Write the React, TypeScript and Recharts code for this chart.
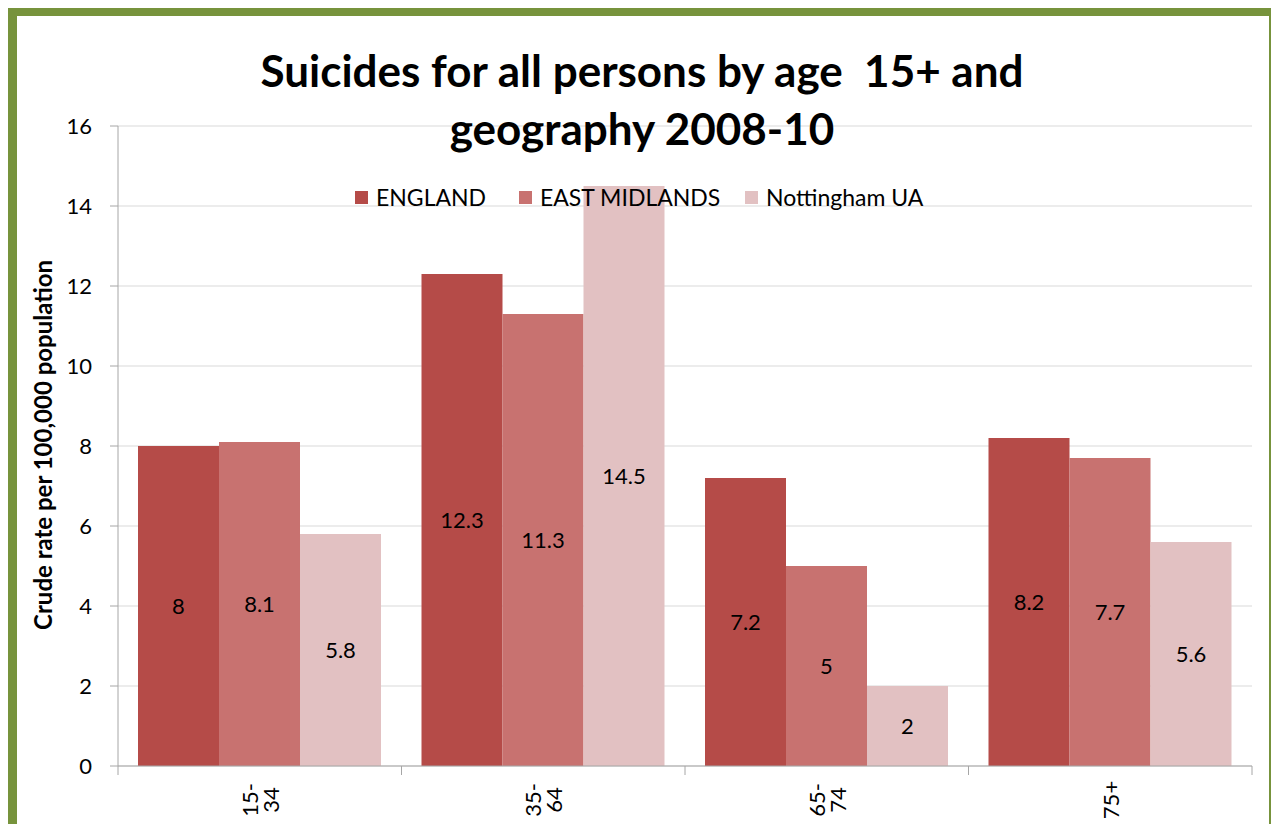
import React from "react";
import {
  BarChart,
  Bar,
  XAxis,
  YAxis,
  CartesianGrid,
  LabelList,
} from "recharts";

const categories = ["15- 34", "35- 64", "65- 74", "75+"];
const england = [8, 12.3, 7.2, 8.2];
const eastMidlands = [8.1, 11.3, 5, 7.7];
const nottingham = [5.8, 14.5, 2, 5.6];
const seriesNames = ["ENGLAND", "EAST MIDLANDS", "Nottingham UA"];
const seriesKeys = ["england", "eastMidlands", "nottingham"];
const seriesColors = ["#B54B48", "#C87270", "#E2C1C2"];
const yTicks = [0, 2, 4, 6, 8, 10, 12, 14, 16];

const data = categories.map((age, i) => ({
  age,
  england: england[i],
  eastMidlands: eastMidlands[i],
  nottingham: nottingham[i],
}));

const FONT = "Lato, 'Noto Sans', sans-serif";
const AXIS_GREY = "#A6A6A6";
const legendWidths = [164, 226, 200];

// rotated two-line age labels + tick marks at the band edges
const AgeTick = (props: any) => {
  const { x, y, payload, index } = props;
  const half = payload.offset || 0;
  const lines: string[] = String(payload.value).split(" ");
  const cy = y + 34;
  return (
    <g>
      <line x1={x - half} y1={y} x2={x - half} y2={y + 9} stroke={AXIS_GREY} />
      {index === categories.length - 1 && (
        <line x1={x + half} y1={y} x2={x + half} y2={y + 9} stroke={AXIS_GREY} />
      )}
      {lines.map((ln, i) => {
        const lx = x + (i - (lines.length - 1) / 2) * 21;
        return (
          <text
            key={i}
            x={lx}
            y={cy}
            transform={`rotate(-90 ${lx} ${cy})`}
            textAnchor="middle"
            dominantBaseline="central"
            fontFamily={FONT}
            fontSize={22}
            fill="#000"
          >
            {ln}
          </text>
        );
      })}
    </g>
  );
};

const Legend = () => (
  <div
    style={{
      position: "absolute",
      left: 355,
      top: 183,
      display: "flex",
      alignItems: "center",
      fontFamily: FONT,
      fontSize: 23,
      color: "#000",
    }}
  >
    {seriesNames.map((name, i) => (
      <div
        key={name}
        style={{ display: "flex", alignItems: "center", width: legendWidths[i] }}
      >
        <span
          style={{
            width: 13,
            height: 13,
            background: seriesColors[i],
            marginRight: 8,
            display: "inline-block",
          }}
        />
        <span>{name}</span>
      </div>
    ))}
  </div>
);

export default function App() {
  return (
    <div
      style={{
        position: "relative",
        width: 1279,
        height: 832,
        margin: -8,
        overflow: "hidden",
        background: "#fff",
      }}
    >
      <BarChart
        width={1279}
        height={832}
        data={data}
        margin={{ top: 126, right: 27, left: 58, bottom: 0 }}
        barCategoryGap={20}
        barGap={0}
      >
        <CartesianGrid vertical={false} stroke="#D9D9D9" />
        <XAxis
          dataKey="age"
          height={66}
          axisLine={{ stroke: AXIS_GREY }}
          tickLine={false}
          tickSize={0}
          tickMargin={0}
          interval={0}
          tick={<AgeTick />}
        />
        <YAxis
          width={60}
          domain={[0, 16]}
          ticks={yTicks}
          interval={0}
          axisLine={{ stroke: AXIS_GREY }}
          tickLine={{ stroke: AXIS_GREY }}
          tickSize={8}
          tickMargin={18}
          tick={{ fontFamily: FONT, fontSize: 22, fill: "#000" }}
          label={{
            content: () => (
              <text
                x={42}
                y={445}
                transform="rotate(-90 42 445)"
                textAnchor="middle"
                dominantBaseline="central"
                fontFamily={FONT}
                fontWeight="bold"
                fontSize={24}
                fill="#000"
              >
                Crude rate per 100,000 population
              </text>
            ),
          }}
        />
        {seriesKeys.map((k, i) => (
          <Bar
            key={k}
            dataKey={k}
            name={seriesNames[i]}
            fill={seriesColors[i]}
            isAnimationActive={false}
          >
            <LabelList
              dataKey={k}
              position="center"
              fill="#000"
              fontFamily={FONT}
              fontSize={22}
            />
          </Bar>
        ))}
      </BarChart>

      <div
        style={{
          position: "absolute",
          left: 0,
          width: 1284,
          top: 41,
          textAlign: "center",
          fontFamily: FONT,
          fontWeight: "bold",
          fontSize: 44,
          lineHeight: "58px",
          color: "#000",
          whiteSpace: "pre",
        }}
      >
        {"Suicides for all persons by age  15+ and\ngeography 2008-10"}
      </div>

      <Legend />

      {/* olive frame */}
      <div
        style={{
          position: "absolute",
          left: 7,
          top: 6,
          width: 1272,
          height: 834,
          border: "10px solid #77933C",
          boxSizing: "border-box",
          pointerEvents: "none",
        }}
      />
    </div>
  );
}
